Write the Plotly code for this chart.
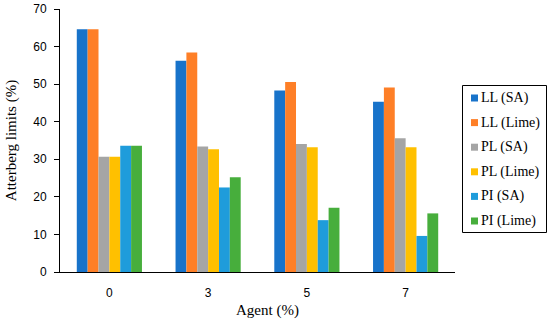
import plotly.graph_objects as go

categories = ["0", "3", "5", "7"]
series_names = ["LL (SA)", "LL (Lime)", "PL (SA)", "PL (Lime)", "PI (SA)", "PI (Lime)"]
LL_SA = [64.6, 56.2, 48.3, 45.3]
LL_Lime = [64.6, 58.4, 50.6, 49.1]
PL_SA = [30.7, 33.4, 34.1, 35.6]
PL_Lime = [30.7, 32.7, 33.2, 33.2]
PI_SA = [33.6, 22.5, 13.8, 9.6]
PI_Lime = [33.6, 25.2, 17.1, 15.6]
series_values = [LL_SA, LL_Lime, PL_SA, PL_Lime, PI_SA, PI_Lime]
colors = ["#1873CA", "#FE7F27", "#A5A5A5", "#FFC000", "#1F9CDB", "#47AE3C"]

W, H = 550, 323
L, R, T, B = 60, 95, 9, 51
pw, ph = W - L - R, H - T - B

def px_x(p):
    return (p - L) / pw

def px_y(p):
    return (H - B - p) / ph

fig = go.Figure()
for name, vals, col in zip(series_names, series_values, colors):
    fig.add_trace(go.Bar(x=categories, y=vals, name=name, marker_color=col,
                         marker_line_width=0, showlegend=False))

# manual legend (box, swatches, labels)
shapes = [dict(type="rect", xref="paper", yref="paper",
               x0=px_x(462.5), x1=px_x(546.5), y0=px_y(232.5), y1=px_y(85.5),
               line=dict(color="black", width=1), fillcolor="white")]
annotations = []
for i, (name, col) in enumerate(zip(series_names, colors)):
    cy = 98 + 24.6 * i
    shapes.append(dict(type="rect", xref="paper", yref="paper",
                       x0=px_x(471), x1=px_x(478), y0=px_y(cy + 3.5), y1=px_y(cy - 3.5),
                       line=dict(width=0), fillcolor=col))
    annotations.append(dict(text=name, xref="paper", yref="paper", x=px_x(479), y=px_y(cy),
                            xanchor="left", yanchor="middle", showarrow=False,
                            font=dict(family="Liberation Serif", size=14, color="black")))

annotations.append(dict(text="Agent (%)", xref="paper", yref="paper", x=px_x(267), y=px_y(310),
                        xanchor="center", yanchor="middle", showarrow=False,
                        font=dict(family="Liberation Serif", size=15, color="black")))

fig.update_layout(
    width=W, height=H,
    margin=dict(l=L, r=R, t=T, b=B, autoexpand=False),
    paper_bgcolor="white", plot_bgcolor="white",
    barmode="group", bargap=0.34, bargroupgap=0,
    showlegend=False,
    shapes=shapes, annotations=annotations,
    xaxis=dict(showline=True, linecolor="black", linewidth=1, ticks="", showgrid=False,
               automargin=False,
               tickfont=dict(family="Liberation Sans", size=12, color="black"),
               ticklabelstandoff=10),
    yaxis=dict(range=[0, 70], dtick=10, showline=True, linecolor="black", linewidth=1,
               ticks="outside", ticklen=5, tickcolor="black", showgrid=False, zeroline=False,
               automargin=False,
               tickfont=dict(family="Liberation Sans", size=12, color="black"),
               ticklabelstandoff=5,
               title=dict(text="Atterberg limits (%)", standoff=12,
                          font=dict(family="Liberation Serif", size=15, color="black"))),
)

fig.write_html("out.html", config={"displayModeBar": False},
               post_script="document.body.style.margin='0';")
